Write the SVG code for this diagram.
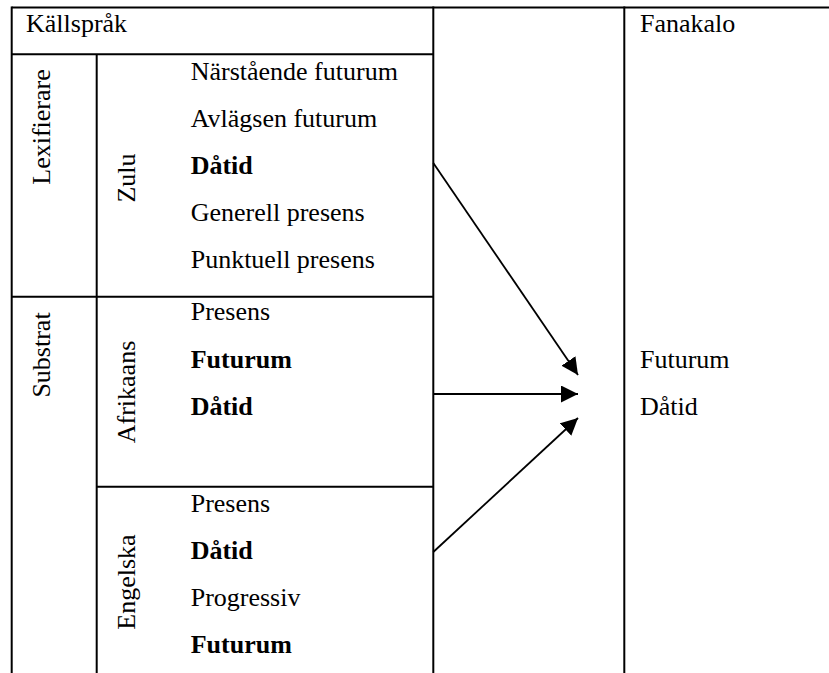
<svg xmlns="http://www.w3.org/2000/svg" width="829" height="673" viewBox="0 0 829 673">
  <style>
    .t { font-family: "Liberation Serif", "Times New Roman", serif; font-size: 26px; fill: #000; }
    .b { font-weight: bold; }
    .rot { text-anchor: middle; }
    .grid { stroke: #000; stroke-width: 2; fill: none; }
    .conn { stroke: #000; stroke-width: 1.8; fill: none; }
  </style>
  <defs>
    <marker id="arrow" markerUnits="userSpaceOnUse" viewBox="0 0 18 17" markerWidth="18" markerHeight="17" refX="17" refY="8.5" orient="auto">
      <path d="M0,0 L17,8.5 L0,17 z" fill="#000" stroke="none"/>
    </marker>
  </defs>
  <rect width="829" height="673" fill="#fff"/>

  <g id="grid" class="grid">
    <line x1="11.7" y1="7.5" x2="829" y2="7.5"/>
    <line x1="11.7" y1="6.5" x2="11.7" y2="673"/>
    <line x1="11.7" y1="54.3" x2="433.3" y2="54.3"/>
    <line x1="96.7" y1="54.3" x2="96.7" y2="673"/>
    <line x1="433.3" y1="6.5" x2="433.3" y2="673"/>
    <line x1="624.3" y1="6.5" x2="624.3" y2="673"/>
    <line x1="11.7" y1="296.7" x2="433.3" y2="296.7"/>
    <line x1="96.7" y1="486.7" x2="433.3" y2="486.7"/>
  </g>

  <g id="header">
    <text class="t" x="26" y="32">Källspråk</text>
  </g>

  <g id="lexifierare">
    <text class="t rot" transform="translate(50,127) rotate(-90)">Lexifierare</text>
  </g>

  <g id="zulu">
    <text class="t rot" transform="translate(135,178) rotate(-90)">Zulu</text>
    <text class="t" x="190.7" y="80">Närstående futurum</text>
    <text class="t" x="190.7" y="127">Avlägsen futurum</text>
    <text class="t b" x="190.7" y="174">Dåtid</text>
    <text class="t" x="190.7" y="221">Generell presens</text>
    <text class="t" x="190.7" y="268">Punktuell presens</text>
  </g>

  <g id="substrat">
    <text class="t rot" transform="translate(50,355) rotate(-90)">Substrat</text>
  </g>

  <g id="afrikaans">
    <text class="t rot" transform="translate(135,392) rotate(-90)">Afrikaans</text>
    <text class="t" x="190.7" y="320">Presens</text>
    <text class="t b" x="190.7" y="367.5">Futurum</text>
    <text class="t b" x="190.7" y="415">Dåtid</text>
  </g>

  <g id="engelska">
    <text class="t rot" transform="translate(135,582) rotate(-90)">Engelska</text>
    <text class="t" x="190.7" y="512">Presens</text>
    <text class="t b" x="190.7" y="559">Dåtid</text>
    <text class="t" x="190.7" y="606">Progressiv</text>
    <text class="t b" x="190.7" y="653">Futurum</text>
  </g>

  <g id="fanakalo">
    <text class="t" x="640" y="32">Fanakalo</text>
    <text class="t" x="640" y="367.5">Futurum</text>
    <text class="t" x="640" y="415">Dåtid</text>
  </g>

  <g id="connectors" class="conn">
    <line x1="433.3" y1="163" x2="578" y2="375" marker-end="url(#arrow)"/>
    <line x1="433.3" y1="394" x2="578" y2="394" marker-end="url(#arrow)"/>
    <line x1="433.3" y1="552" x2="578" y2="418" marker-end="url(#arrow)"/>
  </g>
</svg>
